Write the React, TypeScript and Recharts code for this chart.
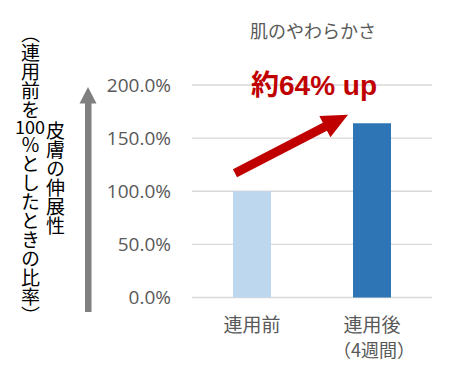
import { BarChart, Bar, Cell, XAxis, YAxis, CartesianGrid } from 'recharts'

const categories = ['連用前', '連用後']
const subLabels = ['', '（4週間）']
const values = [100, 164]
const barColors = ['#BDD7EE', '#2E75B6']
const yTicks = [0, 50, 100, 150, 200]

const W = 460
const H = 378
const PLOT_LEFT = 192
const PLOT_RIGHT = 432
const PLOT_TOP = 85
const PLOT_BOTTOM = 297.5

const JP = '"Noto Sans CJK JP", "Noto Sans", sans-serif'
const NUM = '"Open Sans", "Noto Sans", sans-serif'
const GRAY = '#595959'

const data = categories.map((name, i) => ({ name, sub: subLabels[i], value: values[i] }))

// pixel of a y value on the plot, used only for the annotation arrow
const yPx = (v: number) => PLOT_BOTTOM - (v / 200) * (PLOT_BOTTOM - PLOT_TOP)

const XTick = (props: any) => {
  const { x, y, payload } = props
  const row = data.find((d) => d.name === payload.value)
  return (
    <g>
      <text x={x} y={y + 26} textAnchor="middle" fill={GRAY} fontSize={19} fontFamily={JP}>
        {payload.value}
      </text>
      {row?.sub ? (
        <text x={x + 2} y={y + 51} textAnchor="middle" fill={GRAY} fontSize={18} fontFamily={JP}>
          {row.sub}
        </text>
      ) : null}
    </g>
  )
}

const arrowPoints = (x1: number, y1: number, x2: number, y2: number, half: number, headLen: number, headHalf: number) => {
  const dx = x2 - x1
  const dy = y2 - y1
  const len = Math.sqrt(dx * dx + dy * dy)
  const ux = dx / len
  const uy = dy / len
  const nx = -uy
  const ny = ux
  const bx = x2 - ux * headLen
  const by = y2 - uy * headLen
  const pts = [
    [x1 + nx * half, y1 + ny * half],
    [bx + nx * half, by + ny * half],
    [bx + nx * headHalf, by + ny * headHalf],
    [x2, y2],
    [bx - nx * headHalf, by - ny * headHalf],
    [bx - nx * half, by - ny * half],
    [x1 - nx * half, y1 - ny * half],
  ]
  return pts.map((p) => p.join(',')).join(' ')
}

const vText = {
  position: 'absolute' as const,
  writingMode: 'vertical-rl' as const,
  fontFamily: JP,
  fontSize: 19,
  lineHeight: '19px',
  color: '#000',
  whiteSpace: 'nowrap' as const,
}

export default function App() {
  return (
    <div style={{ position: 'absolute', left: 0, top: 0, width: W, height: H, background: '#fff' }}>
      <BarChart
        width={W}
        height={H}
        data={data}
        margin={{ top: PLOT_TOP, right: W - PLOT_RIGHT, bottom: H - PLOT_BOTTOM - 30, left: 0 }}
        barCategoryGap="34%"
      >
        <CartesianGrid vertical={false} stroke="#d9d9d9" strokeWidth={1.4} />
        <XAxis dataKey="name" axisLine={false} tickLine={false} tick={<XTick />} height={30} interval={0} />
        <YAxis
          width={PLOT_LEFT}
          domain={[0, 200]}
          ticks={yTicks}
          axisLine={false}
          tickLine={false}
          tickSize={0}
          tickMargin={21}
          tick={{ fill: GRAY, fontSize: 19, fontFamily: NUM }}
          tickFormatter={(v: number) => `${v.toFixed(1)}%`}
        />
        <Bar dataKey="value" barSize={38} isAnimationActive={false}>
          {data.map((d, i) => (
            <Cell key={d.name} fill={barColors[i]} />
          ))}
        </Bar>
      </BarChart>

      <svg width={W} height={H} style={{ position: 'absolute', left: 0, top: 0, pointerEvents: 'none' }}>
        <text x={313} y={38} textAnchor="middle" fill={GRAY} fontSize={18} fontFamily={JP}>
          肌のやわらかさ
        </text>
        <text
          x={314}
          y={95}
          textAnchor="middle"
          fill="#C00000"
          fontSize={28}
          fontWeight="bold"
          fontFamily={'"Liberation Sans", Arial, "Noto Sans CJK JP", sans-serif'}
        >
          約64% up
        </text>
        <polygon points={arrowPoints(235, yPx(117), 348, yPx(172), 4.5, 26, 12)} fill="#C00000" />
        <rect x={85} y={100} width={6.5} height={212} fill="#808080" />
        <polygon points="88,87 79.5,103.5 96.5,103.5" fill="#808080" />
      </svg>

      <div style={{ ...vText, left: 21, top: 24 }}>（連用前を</div>
      <div
        style={{
          position: 'absolute',
          left: 10,
          top: 116,
          width: 40,
          textAlign: 'center',
          fontFamily: JP,
          fontSize: 18,
          lineHeight: '20px',
        }}
      >
        100
      </div>
      <div style={{ ...vText, left: 21, top: 135 }}>％としたときの比率）</div>
      <div style={{ ...vText, left: 46, top: 121 }}>皮膚の伸展性</div>
    </div>
  )
}
